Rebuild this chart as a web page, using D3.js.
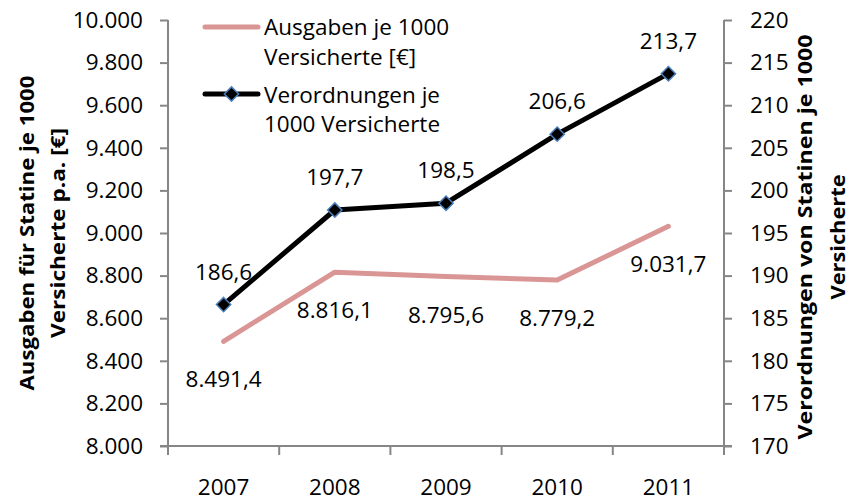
<!DOCTYPE html>
<html><head><meta charset="utf-8">
<script src="https://cdn.jsdelivr.net/npm/d3@7"></script>
<style>
html,body{margin:0;padding:0;background:#fff;}
svg text{font-family:"Open Sans", Lato, sans-serif;fill:#000;}
</style></head>
<body><svg id="c" width="850" height="502"></svg>
<script>
const years = ["2007","2008","2009","2010","2011"];
const ausgaben = [8491.4, 8816.1, 8795.6, 8779.2, 9031.7];
const verordnungen = [186.6, 197.7, 198.5, 206.6, 213.7];
const leftTicks = [8000,8200,8400,8600,8800,9000,9200,9400,9600,9800,10000];
const rightTicks = [170,175,180,185,190,195,200,205,210,215,220];
const leftTitle = ["Ausgaben für Statine je 1000","Versicherte p.a. [€]"];
const rightTitle = ["Verordnungen von Statinen je 1000","Versicherte"];
const legendA = ["Ausgaben je 1000","Versicherte [€]"];
const legendV = ["Verordnungen je","1000 Versicherte"];

const de = d3.formatLocale({decimal:",",thousands:".",grouping:[3],currency:["","€"]});
const fInt = de.format(",.0f"), fDec = de.format(",.1f");

const svg = d3.select("#c");
const axisCol = "#868686";
const X0=168, X1=724, Y0=446, Y1=20;
const x = d3.scaleBand().domain(years).range([X0,X1]).padding(0);
const yL = d3.scaleLinear().domain([8000,10000]).range([Y0,Y1]);
const yR = d3.scaleLinear().domain([170,220]).range([Y0,Y1]);
const cx = d => x(d)+x.bandwidth()/2;
const FS = 22.5;

// left axis
const gL = svg.append("g").attr("transform",`translate(${X0},0)`)
  .call(d3.axisLeft(yL).tickValues(leftTicks).tickFormat(fInt).tickSize(8).tickSizeOuter(0).tickPadding(17));
// right axis
const gR = svg.append("g").attr("transform",`translate(${X1},0)`)
  .call(d3.axisRight(yR).tickValues(rightTicks).tickFormat(d=>d).tickSize(8).tickSizeOuter(0).tickPadding(18));
[gL,gR].forEach(g=>{
  g.select(".domain").remove();
  g.selectAll(".tick line").attr("stroke",axisCol).attr("stroke-width",2);
  g.selectAll(".tick text").attr("font-size",FS).attr("font-family","Open Sans");
});
// vertical axis lines (extend to below x axis)
svg.append("line").attr("x1",X0).attr("x2",X0).attr("y1",Y1).attr("y2",Y0+9).attr("stroke",axisCol).attr("stroke-width",2);
svg.append("line").attr("x1",X1).attr("x2",X1).attr("y1",Y1).attr("y2",Y0+9).attr("stroke",axisCol).attr("stroke-width",2);
// x axis
svg.append("line").attr("x1",X0-8).attr("x2",X1+8).attr("y1",Y0).attr("y2",Y0).attr("stroke",axisCol).attr("stroke-width",2);
svg.append("g").selectAll("line").data(years.slice(1)).join("line")
  .attr("x1",d=>x(d)).attr("x2",d=>x(d)).attr("y1",Y0).attr("y2",Y0+9)
  .attr("stroke",axisCol).attr("stroke-width",2);
svg.append("g").selectAll("text").data(years).join("text")
  .attr("x",d=>cx(d)).attr("y",495).attr("text-anchor","middle").attr("font-size",FS).text(d=>d);

// axis titles
const lt = svg.append("text").attr("transform","translate(34,233) rotate(-90)")
  .attr("text-anchor","middle").attr("font-size",20).attr("font-weight","bold");
[315,210].forEach((L,i)=>lt.append("tspan").attr("x",0).attr("y",i?31:0)
  .attr("textLength",L).attr("lengthAdjust","spacingAndGlyphs").text(leftTitle[i]));
const rt = svg.append("text").attr("transform","translate(812,237) rotate(-90)")
  .attr("text-anchor","middle").attr("font-size",20).attr("font-weight","bold");
[405,125].forEach((L,i)=>rt.append("tspan").attr("x",0).attr("y",i?33:0)
  .attr("textLength",L).attr("lengthAdjust","spacingAndGlyphs").text(rightTitle[i]));

// lines
const pink = "#D99694";
svg.append("path").datum(years.map((d,i)=>[cx(d),yL(ausgaben[i])]))
  .attr("d",d3.line()).attr("fill","none").attr("stroke",pink).attr("stroke-width",5).attr("stroke-linejoin","round").attr("stroke-linecap","round");
svg.append("path").datum(years.map((d,i)=>[cx(d),yR(verordnungen[i])]))
  .attr("d",d3.line()).attr("fill","none").attr("stroke","#000").attr("stroke-width",5).attr("stroke-linejoin","round").attr("stroke-linecap","round");
const diamond = d3.symbol().type(d3.symbolDiamond2).size(130);
svg.append("g").selectAll("path").data(years).join("path")
  .attr("transform",(d,i)=>`translate(${cx(d)},${yR(verordnungen[i])})`)
  .attr("d",diamond).attr("fill","#000").attr("stroke","#4A7EBB").attr("stroke-width",1.5);

// data labels
svg.append("g").selectAll("text").data(years).join("text")
  .attr("x",d=>cx(d)).attr("y",(d,i)=>yR(verordnungen[i])-25).attr("text-anchor","middle").attr("font-size",FS)
  .text((d,i)=>fDec(verordnungen[i]));
svg.append("g").selectAll("text").data(years).join("text")
  .attr("x",d=>cx(d)).attr("y",(d,i)=>yL(ausgaben[i])+46).attr("text-anchor","middle").attr("font-size",FS)
  .text((d,i)=>fDec(ausgaben[i]));

// legend
const lg = svg.append("g");
lg.append("line").attr("x1",205).attr("x2",258).attr("y1",27).attr("y2",27).attr("stroke",pink).attr("stroke-width",5).attr("stroke-linecap","round");
lg.append("line").attr("x1",205).attr("x2",258).attr("y1",94).attr("y2",94).attr("stroke","#000").attr("stroke-width",5).attr("stroke-linecap","round");
lg.append("path").attr("transform","translate(231.5,94)").attr("d",diamond).attr("fill","#000").attr("stroke","#4A7EBB").attr("stroke-width",1.5);
legendA.forEach((t,i)=>lg.append("text").attr("x",264).attr("y",35+i*30).attr("font-size",FS).text(t));
legendV.forEach((t,i)=>lg.append("text").attr("x",264).attr("y",103+i*29).attr("font-size",FS).text(t));
</script></body></html>
